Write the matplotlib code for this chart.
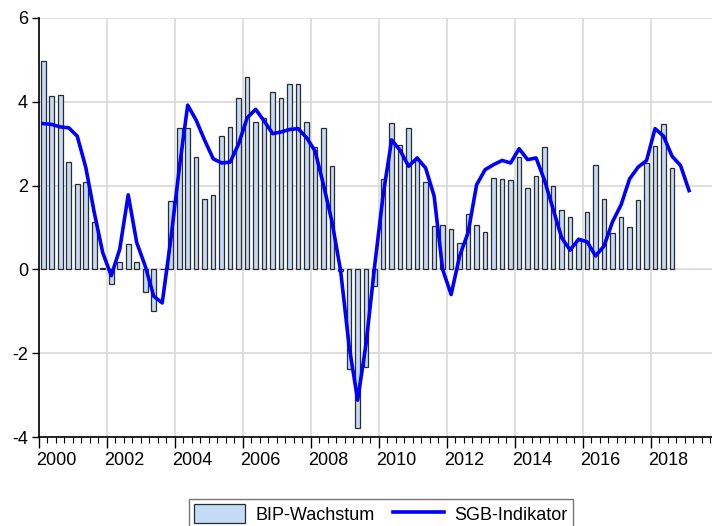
import numpy as np
import matplotlib.pyplot as plt
from matplotlib.ticker import FixedLocator

plt.rcParams['font.family'] = ['Liberation Sans', 'DejaVu Sans']

# Quartalsdaten ab 2000Q1
bip_wachstum = [
    4.98, 4.14, 4.16, 2.56, 2.04, 2.08, 1.12, 0.04, -0.34, 0.18,
    0.60, 0.18, -0.54, -1.00, 0.00, 1.64, 3.38, 3.38, 2.68, 1.67,
    1.77, 3.18, 3.41, 4.08, 4.58, 3.52, 3.62, 4.24, 4.10, 4.42,
    4.42, 3.52, 2.93, 3.38, 2.46, -0.05, -2.38, -3.78, -2.34, -0.40,
    2.15, 3.49, 2.97, 3.38, 2.60, 2.08, 1.04, 1.07, 0.97, 0.64,
    1.32, 1.07, 0.90, 2.18, 2.15, 2.13, 2.68, 1.94, 2.22, 2.93,
    2.00, 1.41, 1.26, 0.70, 1.38, 2.49, 1.67, 0.86, 1.25, 1.02,
    1.66, 2.54, 2.94, 3.47, 2.41,
]
sgb_indikator = [
    3.48, 3.46, 3.40, 3.38, 3.18, 2.44, 1.36, 0.40, -0.15, 0.48,
    1.78, 0.64, 0.08, -0.64, -0.80, 0.70, 2.40, 3.92, 3.56, 3.08,
    2.64, 2.54, 2.56, 3.00, 3.62, 3.82, 3.54, 3.24, 3.28, 3.34,
    3.36, 3.14, 2.82, 2.00, 1.12, -0.04, -1.84, -3.12, -1.76, 0.08,
    1.78, 3.09, 2.84, 2.46, 2.66, 2.42, 1.75, 0.00, -0.60, 0.32,
    0.88, 2.02, 2.38, 2.50, 2.60, 2.54, 2.88, 2.62, 2.66, 2.12,
    1.44, 0.76, 0.46, 0.72, 0.66, 0.32, 0.56, 1.14, 1.54, 2.16,
    2.44, 2.60, 3.36, 3.18, 2.70, 2.48, 1.88,
]
jahre = list(range(2000, 2019, 2))
y_ticks = [-4, -2, 0, 2, 4, 6]

# Zeitachse: Quartalsmitte in Jahren
x_bip = 2000 + (np.arange(len(bip_wachstum)) + 0.5) / 4
x_sgb = 2000 + (np.arange(len(sgb_indikator)) + 0.5) / 4

fig = plt.figure(figsize=(7.12, 5.26), dpi=100)
ax = fig.add_axes([39 / 712, 89 / 526, 1 - 39 / 712, 419 / 526])

balken = ax.bar(x_bip, bip_wachstum, width=0.135, color='#c3dbf6', edgecolor='#2b2b2b',
                linewidth=0.9, label='BIP-Wachstum', zorder=2)
linie, = ax.plot(x_sgb, sgb_indikator, color='#0000ff', linewidth=2.6,
                 label='SGB-Indikator', zorder=3)

ax.set_xlim(2000, 2019.8)
ax.set_ylim(-4, 6)

ax.set_yticks(y_ticks)
ax.set_yticklabels([str(v) for v in y_ticks])
ax.xaxis.set_major_locator(FixedLocator(jahre))
ax.xaxis.set_minor_locator(FixedLocator(np.arange(2000, 2019.8, 0.25)))
ax.set_xticklabels([])
for j in jahre:
    ax.text(j + 0.5, -0.035, str(j), transform=ax.get_xaxis_transform(),
            ha='center', va='top', fontsize=13)

ax.grid(True, which='major', color='#d9d9d9', linewidth=1.2, zorder=0)
ax.set_axisbelow(True)
ax.tick_params(axis='y', labelsize=13, length=5, width=1, direction='out', pad=3)
ax.tick_params(axis='x', which='major', length=8, width=1, direction='out')
ax.tick_params(axis='x', which='minor', length=4, width=0.8, direction='out')

for s in ['top', 'right']:
    ax.spines[s].set_visible(False)
for s in ['left', 'bottom']:
    ax.spines[s].set_linewidth(1.2)

leg = fig.legend([balken, linie], ['BIP-Wachstum', 'SGB-Indikator'],
                 loc='upper center', bbox_to_anchor=(381 / 712, 1 - 499 / 526),
                 borderaxespad=0, ncol=2, fontsize=13, frameon=True, fancybox=False,
                 edgecolor='#555555', handlelength=2.8, handleheight=1.2,
                 handletextpad=0.6, columnspacing=1.0, borderpad=0.3)
leg.get_frame().set_linewidth(1.0)

fig.savefig('out.png', dpi=100)
